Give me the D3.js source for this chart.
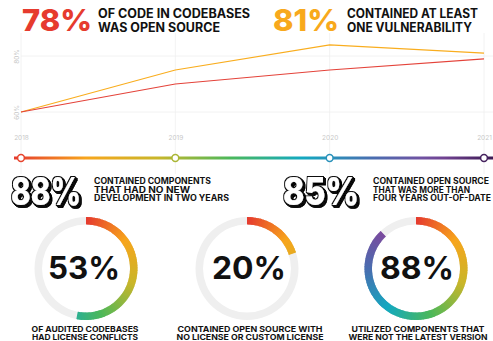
<!DOCTYPE html>
<html>
<head>
<meta charset="utf-8">
<script src="https://cdn.jsdelivr.net/npm/d3@7"></script>
<style>
  html, body { margin: 0; padding: 0; background: #fff; }
  svg { display: block; font-family: "Inter", "Liberation Sans", sans-serif; }
</style>
</head>
<body>
<svg id="chart" width="493" height="341"></svg>
<script>
// Data
const years = [2018, 2019, 2020, 2021];
const openSource = [60, 70, 75, 79];   // red line
const vulnerable = [60, 75, 84, 81];   // orange line
const yTicks = [60, 80];

const headlines = [
    { value: "78%", lines: ["OF CODE IN CODEBASES", "WAS OPEN SOURCE"], color: "#e63b2e" },
    { value: "81%", lines: ["CONTAINED AT LEAST", "ONE VULNERABILITY"], color: "#f8a91c" }
];
const bigStats = [
    { value: "88%", lines: ["CONTAINED COMPONENTS", "THAT HAD NO NEW", "DEVELOPMENT IN TWO YEARS"] },
    { value: "85%", lines: ["CONTAINED OPEN SOURCE", "THAT WAS MORE THAN", "FOUR YEARS OUT-OF-DATE"] }
];
const donutValues = [53, 20, 88];
const donutLabels = [
    ["OF AUDITED CODEBASES", "HAD LICENSE CONFLICTS"],
    ["CONTAINED OPEN SOURCE WITH", "NO LICENSE OR CUSTOM LICENSE"],
    ["UTILIZED COMPONENTS THAT", "WERE NOT THE LATEST VERSION"]
];

const svg = d3.select("#chart");

// shared rainbow used by timeline and donuts
const rainbow = d3.scaleLinear()
    .domain([0, 0.15, 0.3, 0.45, 0.6, 0.75, 0.88, 1])
    .range(["#e53a2f", "#f7a51c", "#c9b62a", "#4cb85a", "#13a9c0", "#4a6db0", "#7b4a9e", "#3b1a52"]);

// fit a text element to a target width
function fit(sel, w) {
    sel.attr("textLength", w).attr("lengthAdjust", "spacingAndGlyphs");
}

const defs = svg.append("defs");

// outline + stacked shadow for the white numbers
const f = defs.append("filter").attr("id", "extrude")
    .attr("x", "-10%").attr("y", "-20%").attr("width", "130%").attr("height", "150%");
f.append("feMorphology").attr("in", "SourceAlpha").attr("operator", "dilate")
    .attr("radius", 1.4).attr("result", "fat");
f.append("feFlood").attr("flood-color", "#111").attr("result", "ink");
f.append("feComposite").attr("in", "ink").attr("in2", "fat").attr("operator", "in").attr("result", "outline");
[[0.8, "s1"], [1.6, "s2"], [2.4, "s3"]].forEach(([o, r]) => {
    f.append("feOffset").attr("in", "outline").attr("dx", o).attr("dy", o).attr("result", r);
});
const merge = f.append("feMerge");
["s3", "s2", "s1", "outline", "SourceGraphic"].forEach(n => merge.append("feMergeNode").attr("in", n));

// ---------- headlines ----------
const headPos = [
    { x: 22, numW: 70, tx: 98, tw: [152, 122] },
    { x: 273, numW: 66, tx: 347, tw: [131, 125] }
];
headlines.forEach((h, i) => {
    const p = headPos[i];
    svg.append("text")
        .attr("x", p.x).attr("y", 31)
        .attr("font-size", 30).attr("font-weight", 800)
        .attr("fill", h.color)
        .text(h.value)
        .call(fit, p.numW);
    h.lines.forEach((l, j) => {
        svg.append("text")
            .attr("x", p.tx).attr("y", 17.5 + j * 14)
            .attr("font-size", 12.5).attr("font-weight", 700)
            .attr("fill", "#111")
            .text(l)
            .call(fit, p.tw[j]);
    });
});

// ---------- line chart ----------
const x = d3.scalePoint().domain(years).range([21, 484]);
const y = d3.scaleLinear().domain([60, 80]).range([112, 56]);

const grid = svg.append("g");
grid.selectAll("line.v")
    .data(years)
    .join("line")
    .attr("x1", d => x(d)).attr("x2", d => x(d))
    .attr("y1", 33).attr("y2", 174)
    .attr("stroke", "#efefef").attr("stroke-width", 0.8);
grid.selectAll("line.h")
    .data(yTicks)
    .join("line")
    .attr("x1", 21).attr("x2", 493)
    .attr("y1", d => y(d)).attr("y2", d => y(d))
    .attr("stroke", "#efefef").attr("stroke-width", 0.8);

const yAxis = d3.axisLeft(y).tickValues(yTicks).tickSize(0).tickFormat(d => d + "%");
svg.append("g")
    .attr("transform", "translate(19,0)")
    .call(yAxis)
    .call(g => g.select(".domain").remove())
    .call(g => g.selectAll("text")
        .attr("x", 0).attr("y", 0).attr("dy", 0)
        .attr("transform", "rotate(-90)")
        .attr("text-anchor", "middle")
        .attr("font-size", 6.5)
        .attr("font-family", "Inter")
        .attr("fill", "#c8c8c8"));

const xAxis = d3.axisBottom(x).tickSize(0).tickFormat(d3.format("d"));
svg.append("g")
    .attr("transform", "translate(0,135)")
    .call(xAxis)
    .call(g => g.select(".domain").remove())
    .call(g => g.selectAll("text")
        .attr("y", 0).attr("dy", "0.71em")
        .attr("font-size", 6.5)
        .attr("font-family", "Inter")
        .attr("fill", "#c8c8c8"));

const line = d3.line().x((d, i) => x(years[i])).y(d => y(d));
svg.append("path").datum(vulnerable)
    .attr("d", line).attr("fill", "none")
    .attr("stroke", "#f9ad1e").attr("stroke-width", 1.2);
svg.append("path").datum(openSource)
    .attr("d", line).attr("fill", "none")
    .attr("stroke", "#e4433a").attr("stroke-width", 1.2);

// ---------- timeline ----------
const grad = defs.append("linearGradient")
    .attr("id", "timeline").attr("gradientUnits", "userSpaceOnUse")
    .attr("x1", 14).attr("x2", 493).attr("y1", 0).attr("y2", 0);
d3.range(0, 1.0001, 0.05).forEach(t => {
    grad.append("stop").attr("offset", t).attr("stop-color", rainbow(t));
});
svg.append("line")
    .attr("x1", 14).attr("x2", 493).attr("y1", 158).attr("y2", 158)
    .attr("stroke", "url(#timeline)").attr("stroke-width", 3);
svg.selectAll("circle.yr")
    .data(years)
    .join("circle")
    .attr("cx", d => x(d)).attr("cy", 158).attr("r", 3.4)
    .attr("fill", "#fff").attr("stroke-width", 1.5)
    .attr("stroke", d => rainbow((x(d) - 14) / 479));

// ---------- outlined stats ----------
const statPos = [
    { x: 11, numW: 70, tx: 94, tw: [117, 96, 135] },
    { x: 283, numW: 76, tx: 373, tw: [116, 97, 118] }
];
bigStats.forEach((s, i) => {
    const p = statPos[i];
    svg.append("text")
        .attr("x", p.x).attr("y", 205)
        .attr("font-size", 38).attr("font-weight", 800)
        .attr("fill", "#fff")
        .attr("filter", "url(#extrude)")
        .text(s.value).call(fit, p.numW);
    s.lines.forEach((l, j) => {
        svg.append("text")
            .attr("x", p.tx).attr("y", 184 + j * 8.6)
            .attr("font-size", 8.4).attr("font-weight", 700)
            .attr("fill", "#111")
            .text(l).call(fit, p.tw[j]);
    });
});

// ---------- donuts ----------
const donutX = [86, 247, 416];
const donutY = 268.5;
const labelX = [85, 250, 418];
const labelW = [[107, 106], [145, 147], [133, 139]];
const numW = [72, 74, 74];
const arc = d3.arc().innerRadius(44).outerRadius(51.5);
const step = 0.005;

donutValues.forEach((v, i) => {
    const g = svg.append("g").attr("transform", `translate(${donutX[i]},${donutY})`);
    g.append("path")
        .attr("d", arc({ startAngle: 0, endAngle: 2 * Math.PI }))
        .attr("fill", "#efefef");
    const segs = d3.range(0, v / 100 - 1e-9, step);
    g.selectAll("path.seg")
        .data(segs)
        .join("path")
        .attr("d", t => arc({
            startAngle: t * 2 * Math.PI,
            endAngle: Math.min(t + step * 1.6, v / 100) * 2 * Math.PI
        }))
        .attr("fill", t => rainbow(t + step / 2));
    g.append("text")
        .attr("x", labelX[i] - donutX[i] - 1).attr("y", 10)
        .attr("text-anchor", "middle")
        .attr("font-size", 31).attr("font-weight", 700)
        .attr("fill", "#111")
        .text(v + "%").call(fit, numW[i]);
    donutLabels[i].forEach((l, j) => {
        svg.append("text")
            .attr("x", labelX[i]).attr("y", 332 + j * 8.2)
            .attr("text-anchor", "middle")
            .attr("font-size", 7.6).attr("font-weight", 700)
            .attr("fill", "#111")
            .text(l).call(fit, labelW[i][j]);
    });
});
</script>
</body>
</html>
